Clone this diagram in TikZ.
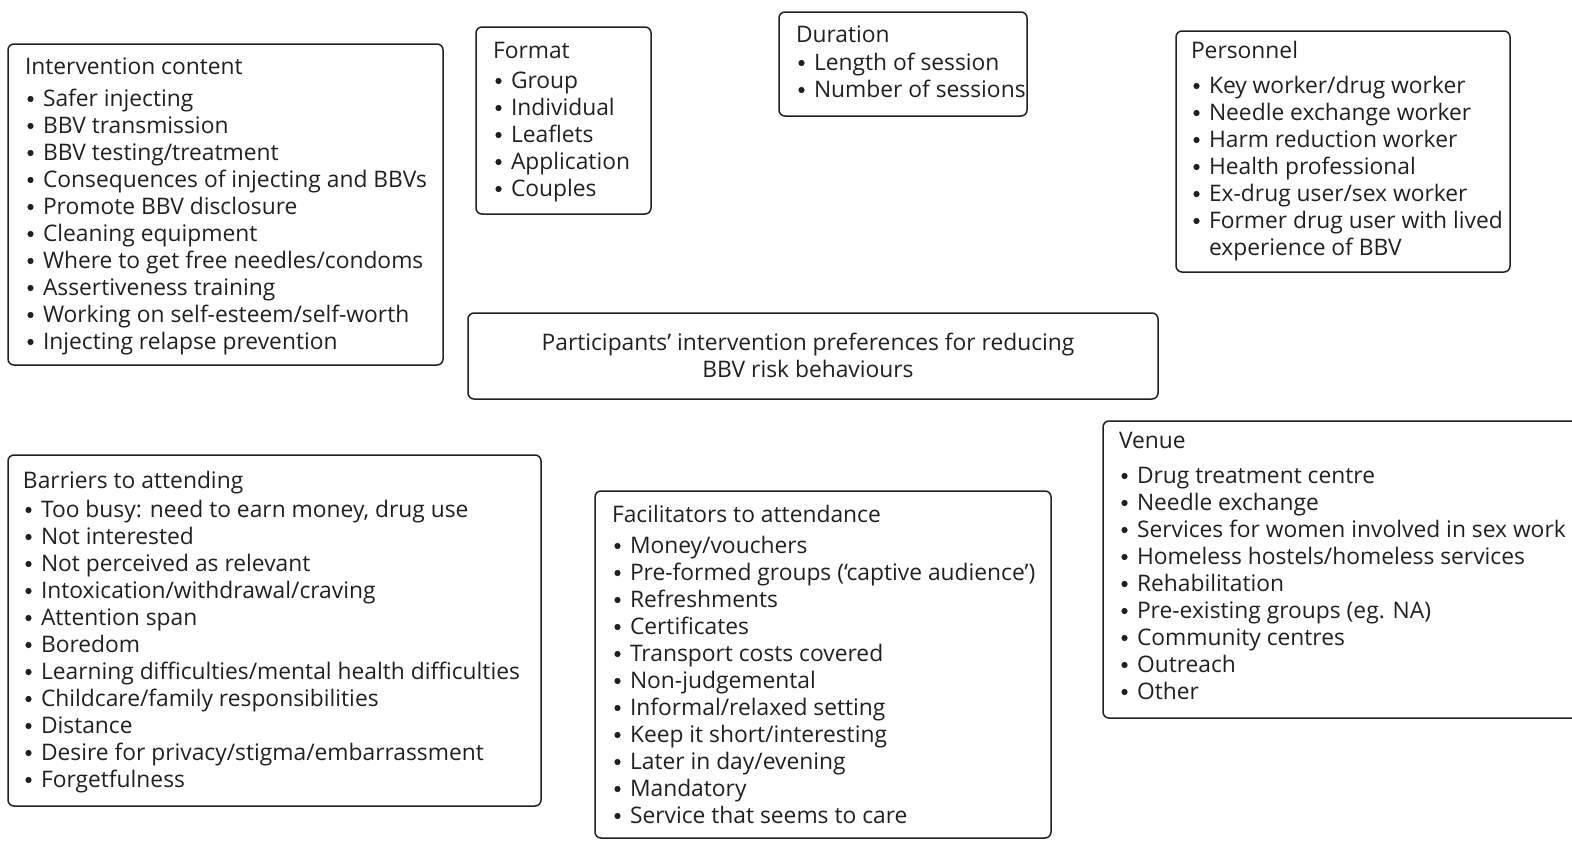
\documentclass[tikz,border=0pt]{standalone}
\usepackage{fontspec}
\setmainfont{Open Sans}
\definecolor{ink}{HTML}{231F20}
\newcommand\plist[6]{%
  \node[txt] (#1-t) at (#2,#3) {#5};
  \foreach \itm [count=\k] in {#6}{%
    \fill[ink] ({#2+5.5},{#4+27*(\k-1)-7}) circle (3.1);
    \node[txt] (#1-\k) at ({#2+18},{#4+27*(\k-1)}) {\itm};
  }%
}
\begin{document}
\begin{tikzpicture}[x=1pt,y=-1pt,
  panel/.style={draw=ink, line width=1.5pt, rounded corners=6pt},
  txt/.style={anchor=base west, inner sep=0pt, outer sep=0pt, text=ink,
    font=\fontsize{22.8}{27}\selectfont},
  ctxt/.style={anchor=base, inner sep=0pt, outer sep=0pt, text=ink,
    font=\fontsize{22.8}{27}\selectfont},
]
\useasboundingbox (0,0) rectangle (1572,841);

% boxes
\draw[panel] (8,44) rectangle (443,365);
\draw[panel] (476,27) rectangle (651,214);
\draw[panel] (779,12) rectangle (1027,116);
\draw[panel] (1176,31) rectangle (1510,272);
\draw[panel] (468,313) rectangle (1158,399);
\draw[panel] (8,455) rectangle (541,806);
\draw[panel] (595,491) rectangle (1051,838);
\draw[panel] (1103,421) rectangle (1590,718);

% Intervention content
\plist{ic}{25}{74}{106}{Intervention content}{Safer injecting, BBV transmission,
  BBV testing/treatment, Consequences of injecting and BBVs, Promote BBV disclosure,
  Cleaning equipment, Where to get free needles/condoms, Assertiveness training,
  Working on self-esteem/self-worth, Injecting relapse prevention}

% Format
\plist{fm}{493}{58}{88}{Format}{Group, Individual, Leaflets, Application, Couples}

% Duration
\plist{du}{796}{42}{70}{Duration}{Length of session, Number of sessions}

% Personnel
\plist{pe}{1191}{58}{93}{Personnel}{Key worker/drug worker, Needle exchange worker,
  Harm reduction worker, Health professional, Ex-drug user/sex worker,
  Former drug user with lived}
\node[txt] (pe-7b) at (1209,255) {experience of BBV};

% Central
\node[ctxt] (c1) at (808,350) {Participants’ intervention preferences for reducing};
\node[ctxt] (c2) at (808,377) {BBV risk behaviours};

% Barriers
\plist{ba}{23}{488}{517}{Barriers to attending}{{Too busy: need to earn money, drug use},
  Not interested, Not perceived as relevant, Intoxication/withdrawal/craving,
  Attention span, Boredom, Learning difficulties/mental health difficulties,
  Childcare/family responsibilities, Distance, Desire for privacy/stigma/embarrassment,
  Forgetfulness}

% Facilitators
\plist{fa}{612}{522}{553}{Facilitators to attendance}{Money/vouchers,
  Pre-formed groups (‘captive audience’), Refreshments, Certificates,
  Transport costs covered, Non-judgemental, Informal/relaxed setting,
  Keep it short/interesting, Later in day/evening, Mandatory, Service that seems to care}

% Venue
\plist{ve}{1119}{448}{483}{Venue}{Drug treatment centre, Needle exchange,
  Services for women involved in sex work, Homeless hostels/homeless services,
  Rehabilitation, Pre-existing groups (eg. NA), Community centres, Outreach, Other}
\end{tikzpicture}
\end{document}
